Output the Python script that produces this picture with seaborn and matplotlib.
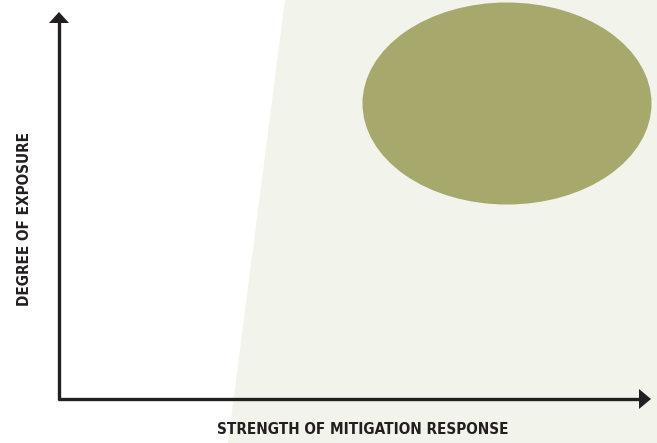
import numpy as np
import seaborn as sns
import matplotlib.pyplot as plt
from matplotlib.patches import Polygon, Ellipse

sns.set_theme(style="white")
plt.rcParams["font.family"] = ["DejaVu Sans"]

# diagram drawn in pixel space of the 657x443 canvas (y grows downward)
zone_x = [285, 657, 657, 228]
zone_y = [0, 0, 443, 443]
blob_center = (507, 103.5)
blob_size = (289, 202)
origin = (59, 399)
x_tip = 651
y_tip = 12
x_label = "STRENGTH OF MITIGATION RESPONSE"
y_label = "DEGREE OF EXPOSURE"

ink = "#231f20"
fig = plt.figure(figsize=(6.57, 4.43), dpi=100)
ax = fig.add_axes([0, 0, 1, 1])
ax.set_xlim(0, 657)
ax.set_ylim(443, 0)
ax.axis("off")

ax.add_patch(Polygon(np.column_stack([zone_x, zone_y]), closed=True,
                     facecolor="#f2f3eb", edgecolor="none"))
ax.add_patch(Ellipse(blob_center, blob_size[0], blob_size[1],
                     facecolor="#a6a86c", edgecolor="none"))

# axes with arrow heads
ox, oy = origin
ax.plot([ox - 1, x_tip - 10], [oy, oy], color=ink, lw=2.4, solid_capstyle="butt")
ax.plot([ox, ox], [oy + 1, y_tip + 10], color=ink, lw=2.4, solid_capstyle="butt")
ax.add_patch(Polygon([[x_tip, oy], [x_tip - 12, oy - 10], [x_tip - 12, oy + 10]],
                     closed=True, facecolor=ink, edgecolor="none"))
ax.add_patch(Polygon([[ox, y_tip], [ox - 10, y_tip + 11], [ox + 10, y_tip + 11]],
                     closed=True, facecolor=ink, edgecolor="none"))

ax.text(362.5, 430, x_label, ha="center", va="center", fontsize=11,
        fontweight="bold", fontstretch="condensed", color=ink)
ax.text(25, 218.5, y_label, ha="center", va="center", fontsize=11,
        fontweight="bold", fontstretch="condensed", color=ink, rotation=90)

fig.savefig("out.png", dpi=100)
